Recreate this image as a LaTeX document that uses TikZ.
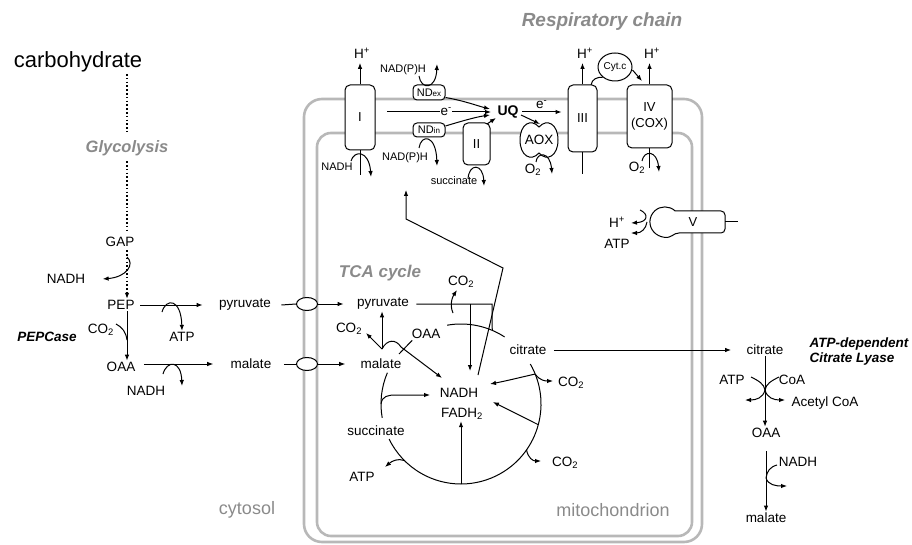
\documentclass[tikz,border=0pt]{standalone}
\usepackage{fontspec}
\setmainfont{Liberation Sans}
\usepackage{tikz}
\usetikzlibrary{arrows.meta,calc,positioning,shapes}
\definecolor{membgray}{gray}{0.72}
\definecolor{textgray}{gray}{0.54}

\tikzset{
	lbl/.style={font=\fontsize{13.5}{15}\selectfont, inner sep=1pt},
	sml/.style={font=\fontsize{11}{12}\selectfont, inner sep=1pt},
	ttl/.style={font=\fontsize{17}{19}\selectfont\bfseries\itshape, text=textgray, inner sep=1pt},
	compart/.style={font=\fontsize{18}{20}\selectfont, text=textgray, inner sep=1pt},
	enz/.style={font=\fontsize{13.5}{15}\selectfont\bfseries\itshape, inner sep=1pt},
	cplx/.style={draw, fill=white, rounded corners=5pt, inner sep=0pt, font=\fontsize{13}{16}\selectfont},
	memb/.style={draw=membgray, line width=2.6pt},
	porter/.style={draw, fill=white, ellipse, minimum width=21pt, minimum height=13pt, inner sep=0pt},
	glydash/.style={line width=1.3pt, dash pattern=on 1.6pt off 2.2pt}
}

\begin{document}
\begin{tikzpicture}[x=1pt,y=-1pt,line width=1pt,>={Latex[length=6pt,width=4.5pt]}]
	\useasboundingbox (0,0) rectangle (912,545);
	% membranes
	\draw[memb, rounded corners=18pt] (304,99) rectangle (702,542);
	\draw[memb, rounded corners=14pt] (317,133) rectangle (692,536);

	\node[ttl, font=\fontsize{19}{21}\selectfont\bfseries\itshape] (resp) at (602,22) {Respiratory chain};
	\node[font=\fontsize{22}{24}\selectfont, inner sep=1pt] (carb) at (78,62) {carbohydrate};
	\node[ttl, font=\fontsize{16.5}{18}\selectfont\bfseries\itshape] (glyc) at (127,148) {Glycolysis};
	\node[ttl] (tca) at (380,273) {TCA cycle};
	\node[compart] (cyto) at (247,510) {cytosol};
	\node[compart] (mito) at (613,510) {mitochondrion};

	% cytosol
	\node[lbl] (gap) at (120,242) {GAP};
	\node[lbl] (nadhA) at (66,279) {NADH};
	\node[lbl] (pep) at (121,305) {PEP};
	\node[lbl] (co2A) at (101,330) {CO\textsubscript{2}};
	\node[enz] (pepc) at (47,337) {PEPCase};
	\node[lbl] (atpA) at (182,337) {ATP};
	\node[lbl] (oaaC) at (121,367) {OAA};
	\node[lbl] (nadhB) at (146,391) {NADH};
	\node[lbl] (pyrC) at (245,305) {pyruvate};
	\node[lbl] (malC) at (251,364) {malate};
	\node[porter] (tpP) at (307,304) {};
	\node[porter] (tpM) at (307,364) {};

	\coordinate (gly) at (127,74);
	\draw[glydash, shorten >=7pt] (gly) -- (gly |- glyc.north);
	\draw[glydash, shorten <=4pt, shorten >=3pt] (gly |- glyc.south) -- (gly |- gap.north);
	\draw[glydash,->, shorten <=2pt] (gly |- gap.south) -- (gly |- pep.north);
	\draw[->] (127,257) .. controls (135,264) and (127,277) .. ([xshift=16pt]nadhA.east);
	\draw[->] ([xshift=4pt]pep.east) -- ([xshift=-15pt]pyrC.west);
	\draw[->] (162,312) .. controls (166,298) and (181,298) .. (atpA.north);
	\draw[->] (pep.south -| gly) -- (oaaC.north -| gly);
	\draw (116,324) .. controls (122,327) and (126,332) .. (127,340);
	\draw[->] ($(oaaC.east)+(7,-3)$) -- ([xshift=-16pt]malC.west);
	\draw[->] (163,374) .. controls (167,360) and (181,360) .. (182,386);

	% transport
	\node[lbl] (pyrM) at (383,304) {pyruvate};
	\node[lbl] (malM) at (381,364) {malate};
	\draw ([xshift=9pt]pyrC.east) -- (tpP.west);
	\draw[->] (tpP.east) -- ([xshift=-12pt]pyrM.west);
	\draw ([xshift=11pt]malC.east) -- (tpM.west);
	\draw[->] (tpM.east) -- ([xshift=-14pt]malM.west);

	% TCA cycle
	\node[lbl] (oaaM) at (426,334) {OAA};
	\node[lbl] (co2B) at (349,329) {CO\textsubscript{2}};
	\node[lbl] (co2C) at (461,282) {CO\textsubscript{2}};
	\node[lbl] (citM) at (528,350) {citrate};
	\node[lbl] (nadhM) at (459,393) {NADH};
	\node[lbl] (fadh) at (462,414) {FADH\textsubscript{2}};
	\node[lbl] (co2D) at (571,383) {CO\textsubscript{2}};
	\node[lbl] (co2E) at (565,463) {CO\textsubscript{2}};
	\node[lbl] (succM) at (376,431) {succinate};
	\node[lbl] (atpB) at (362,477) {ATP};

	\coordinate (tca0) at (461,404);
	\draw ($(tca0)+(-100:80)$) arc[start angle=-100, end angle=-57, radius=80];
	\draw ($(tca0)+(-30:80)$) arc[start angle=-30, end angle=154, radius=80];
	\draw ($(tca0)+(170:80)$) arc[start angle=170, end angle=203, radius=80];

	\draw ([xshift=6pt]pyrM.east) -- (492,304) -- ($(tca0)+(-67:80)$);
	\draw[->] (470,304) -- (470,371);
	\draw[->] (453,313) .. controls (449,304) and (453,296) .. (457,290);
	\draw[->] (478,375) -- (503,268) -- (406,219) -- (406,190);

	\coordinate (me) at (382,349);
	\draw[->] (me) -- (pyrM.south -| me);
	\draw[->] (me) -- (366,333);
	\draw[->] (me) .. controls (387,339) and (396,339) .. (401,347) -- (442,378);
	\draw ([xshift=2pt]oaaM.south west) -- (399,354);

	\coordinate (bC) at ($(tca0)+(180:80)$);
	\draw[->] (bC) .. controls (382,396) and (388,395) .. (396,395) -- (430,395);
	\coordinate (bR1) at ($(tca0)+(-22:80)$);
	\draw[->] (bR1) .. controls (522,377) and (506,381) .. (490,384);
	\draw[->] (bR1) .. controls (540,381) and (546,381) .. (553,381);
	\coordinate (bR2) at ($(tca0)+(15:80)$);
	\draw[->] (bR2) -- (493,402);
	\coordinate (bR3) at ($(tca0)+(35:80)$);
	\draw[->] (bR3) .. controls (528,458) and (533,461) .. (541,461);
	\coordinate (bB) at ($(tca0)+(90:80)$);
	\draw[->] (bB) -- (fadh.south -| bB);
	\coordinate (bL) at ($(tca0)+(135:80)$);
	\draw[->] (bL) .. controls (398,458) and (392,461) .. (385,467);

	% citrate lyase
	\node[lbl] (citC) at (765,350) {citrate};
	\node[enz, align=left, anchor=west, font=\fontsize{13.5}{15}\selectfont\bfseries\itshape] (acl) at (808,351.5) {ATP-dependent\\Citrate Lyase};
	\node[lbl] (atpC) at (732,380) {ATP};
	\node[lbl] (coa) at (792,380) {CoA};
	\node[lbl] (acoa) at (825,403) {Acetyl CoA};
	\node[lbl] (oaaR) at (766,433) {OAA};
	\node[lbl] (nadhR) at (798,462) {NADH};
	\node[lbl] (malR) at (766,518) {malate};
	\draw[->] ([xshift=6pt]citM.east) -- ([xshift=-14pt]citC.west);
	\coordinate (ly) at (765,390);
	\draw[->] (citC.south -| ly) -- (oaaR.north -| ly);
	\draw (751,377) .. controls (759,381) and (764,384) .. (ly);
	\draw (779,377) .. controls (771,381) and (766,384) .. (ly);
	\draw[->] (ly) .. controls (763,398) and (756,400) .. (745,400);
	\draw[->] (ly) .. controls (767,398) and (774,400) .. (785,400);
	\coordinate (lm) at (766,478);
	\draw[->] ([yshift=-12pt]oaaR.south) -- (malR.north -| lm);
	\draw (777,465) .. controls (770,467) and (767,471) .. (lm);
	\draw[->] (lm) .. controls (768,485) and (776,486) .. (787,486);

	% respiratory chain
	\node[cplx, minimum width=30pt, minimum height=65pt] (cI) at (360,117.5) {I};
	\node[cplx, minimum width=27pt, minimum height=42pt] (cII) at (476.5,144) {II};
	\node[cplx, minimum width=29pt, minimum height=67pt] (cIII) at (582.5,118.5) {III};
	\node[cplx, minimum width=45pt, minimum height=63pt, align=center] (cIV) at (649.5,116.5) {IV\\(COX)};
	\node[cplx, rounded corners=4pt, minimum width=32pt, minimum height=15pt, font=\fontsize{11}{12}\selectfont] (ndex) at (429,92.5) {ND{\fontsize{8}{8}\selectfont ex}};
	\node[cplx, rounded corners=4pt, minimum width=32pt, minimum height=14pt, font=\fontsize{11}{12}\selectfont] (ndin) at (429,130) {ND{\fontsize{8}{8}\selectfont in}};
	\node[draw, ellipse, fill=white, minimum width=34pt, minimum height=28pt, inner sep=0pt, font=\fontsize{10}{11}\selectfont] (cytc) at (615,67) {Cyt.c};
	\draw[fill=white] (539,127) .. controls (531,118) and (520,124) .. (520,140) .. controls (520,156) and (531,162) .. (539,153) .. controls (547,162) and (558,156) .. (558,140) .. controls (558,124) and (547,118) .. (539,127) -- cycle;
	\node[lbl] (aox) at (539,140) {AOX};
	\node[font=\fontsize{14}{16}\selectfont\bfseries, inner sep=1pt] (uq) at (508,112) {UQ};

	\node[lbl] (hI) at (362,53) {H\textsuperscript{+}};
	\node[lbl] (hIII) at (585,53) {H\textsuperscript{+}};
	\node[lbl] (hIV) at (652,53) {H\textsuperscript{+}};
	\node[sml] (nadhI) at (337,167) {NADH};
	\node[sml] (npA) at (403,70) {NAD(P)H};
	\node[sml] (npB) at (405,158) {NAD(P)H};
	\node[sml] (succI) at (454,181) {succinate};
	\node[lbl] (o2A) at (533,170) {O\textsubscript{2}};
	\node[lbl] (o2B) at (637,168) {O\textsubscript{2}};

	\draw[->, shorten >=3pt] (cI.north) -- (cI.north |- hI.south);
	\draw (cI.south) -- ++(0,25);
	\draw[->] (351,161) .. controls (354,150) and (369,150) .. (371,177);
	\draw[->] (419,76) .. controls (421,90) and (436,90) .. (437,64);
	\draw[->] (419,148) .. controls (421,134) and (436,134) .. (437,166);
	\draw[->] (468,179) .. controls (469,163) and (483,163) .. (484,186);
	\coordinate (eI) at (387,112);
	\draw[->] (eI) -- node[lbl, fill=white, inner sep=0.3pt, pos=0.57] (e1) {e\textsuperscript{-}} ([xshift=-5pt]uq.west);
	\draw[->] ([yshift=-5pt]ndex.east) .. controls (465,101) and (478,106) .. (490,109);
	\draw[->] ([yshift=4pt]ndin.east) .. controls (462,121) and (476,117) .. (490,115);
	\draw[->] (487,124) -- (496,118);
	\draw[->] ([xshift=2pt]uq.east) -- node[lbl, above=2pt] (e2) {e\textsuperscript{-}} ($(uq.east -| cIII.west)+(-6,0)$);
	\draw[->] (521,115) -- (540,124);
	\draw[->] (536,162) .. controls (537,152) and (550,151) .. (552,174);
	\draw[->, shorten >=3pt] (cIII.north) -- (cIII.north |- hIII.south);
	\draw (cIII.south) -- ++(0,22);
	\draw (591,85) .. controls (592,79) and (597,77) .. (cytc.south west);
	\draw[->] ([yshift=-3pt]cytc.east) -- (642,81);
	\draw[->, shorten >=3pt] (cIV.north) -- (cIV.north |- hIV.south);
	\draw (cIV.south) -- ++(0,20);
	\draw[->] (642,161) .. controls (644,150) and (657,150) .. (659,172);

	% ATP synthase
	\draw[fill=white] (675,211) [rounded corners=4pt] -- (725,211) -- (725,233) -- (675,233) [sharp corners] arc[start angle=47.7, end angle=312.3, radius=15] -- cycle;
	\node[font=\fontsize{13}{15}\selectfont, inner sep=1pt] (v) at (693,222) {V};
	\draw (725,222) -- (738,222);
	\node[lbl] (hV) at (617,222) {H\textsuperscript{+}};
	\node[lbl] (atpV) at (617,244) {ATP};
	\draw[->] (640,210) .. controls (649,214) and (648,222) .. (631,223);
	\draw[->] (647,222) .. controls (646,229) and (641,233) .. (631,233);
\end{tikzpicture}
\end{document}
